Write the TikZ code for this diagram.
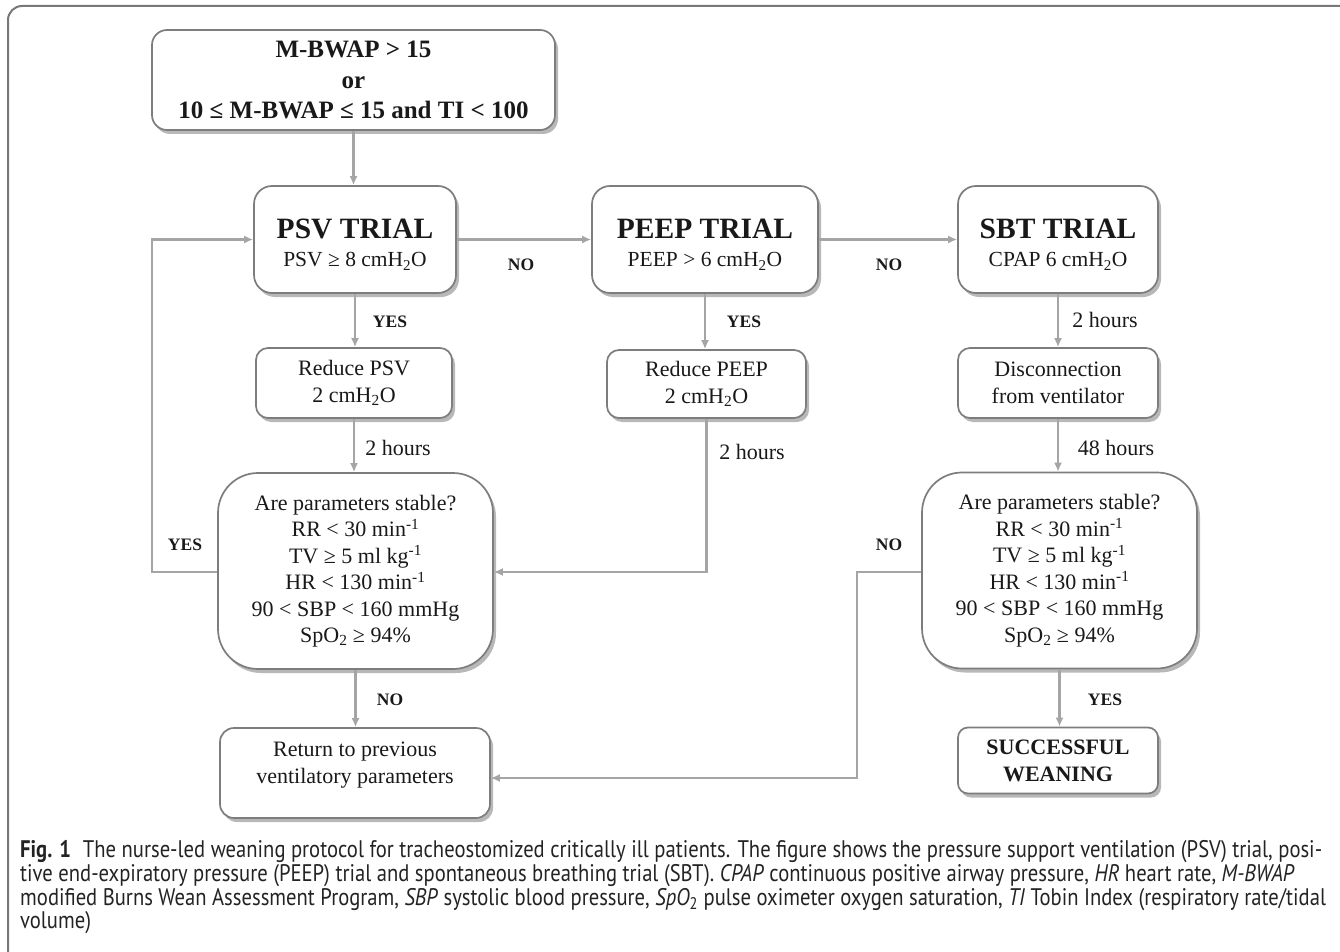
\documentclass[tikz,border=0pt]{standalone}
\usepackage{fontspec}
\setmainfont{Liberation Serif}
\newfontfamily\capfont[FakeStretch=0.86]{PT Sans}
\usetikzlibrary{arrows.meta,shadows}
\definecolor{boxgray}{RGB}{125,125,125}
\definecolor{linegray}{RGB}{165,165,165}
\definecolor{framegray}{RGB}{120,120,120}
\definecolor{txtcol}{RGB}{25,25,25}
\definecolor{capcol}{RGB}{35,35,35}
\newcommand{\cmho}{cmH\textsubscript{2}O}
\newcommand{\minv}{min\textsuperscript{-1}}
\newsavebox\capboxA
\newcommand{\capsize}{\capfont\fontsize{19}{22}\selectfont}
\newcommand{\capA}{\textbf{Fig. 1}\enspace The nurse-led weaning protocol for tracheostomized critically ill patients. The figure shows the pressure support ventilation (PSV) trial, posi-}
\begin{document}
\sbox\capboxA{\capsize\capA}
\pgfmathsetmacro\capscale{1302/\wd\capboxA}
\begin{tikzpicture}[x=1pt,y=-1pt,
  box/.style={draw=boxgray, line width=1.7pt, fill=white, rounded corners=#1,
    align=center, inner sep=0pt, text=txtcol,
    drop shadow={shadow xshift=3pt,shadow yshift=-4pt,fill=black,opacity=0.28}},
  box/.default=14pt,
  txt/.style={align=center, inner sep=0pt, text=txtcol},
  big/.style={font=\fontsize{25}{30.5}\selectfont\bfseries},
  body/.style={font=\fontsize{22}{26.5}\selectfont},
  trial/.style={font=\fontsize{21.5}{31}\selectfont},
  lab/.style={font=\fontsize{17.5}{20}\selectfont\bfseries, text=txtcol, inner sep=0pt},
  hrs/.style={font=\fontsize{22}{24}\selectfont, text=txtcol, inner sep=0pt},
  conn/.style={draw=linegray, line width=2.6pt, -{Latex[length=9pt,width=8pt]}},
  capline/.style={anchor=base west, inner sep=0pt, text=capcol, font=\capsize}
]
\useasboundingbox (0,0) rectangle (1340,952);
% outer frame
\draw[framegray, line width=2pt, rounded corners=14pt] (8,952) -- (8,6) -- (1340,6);

% boxes
\node[box=15pt, big, minimum width=403pt, minimum height=100pt] (top) at (353.5,80)
  {M-BWAP > 15\\or\\10 ≤ M-BWAP ≤ 15 and TI < 100};

\node[box=18pt, trial, minimum width=202pt, minimum height=107pt] (psv) at (355,239.5)
  {\rule{0pt}{27pt}\raisebox{-3pt}{\fontsize{29.5}{31}\selectfont\bfseries PSV TRIAL}\\PSV ≥ 8 \cmho};
\node[box=18pt, trial, minimum width=226pt, minimum height=107pt] (peep) at (705,239.5)
  {\rule{0pt}{27pt}\raisebox{-3pt}{\fontsize{29.5}{31}\selectfont\bfseries PEEP TRIAL}\\PEEP > 6 \cmho};
\node[box=18pt, trial, minimum width=200pt, minimum height=107pt] (sbt) at (1058,239.5)
  {\rule{0pt}{27pt}\raisebox{-3pt}{\fontsize{29.5}{31}\selectfont\bfseries SBT TRIAL}\\CPAP 6 \cmho};

\node[box=12pt, body, minimum width=196pt, minimum height=70pt] (rpsv) at (354,383)
  {Reduce PSV\\2 \cmho};
\node[box=12pt, body, minimum width=199pt, minimum height=68pt] (rpeep) at (706.5,384)
  {Reduce PEEP\\2 \cmho};
\node[box=12pt, body, minimum width=200pt, minimum height=70pt] (disc) at (1058,383)
  {Disconnection\\from ventilator};

\node[box=40pt, body, minimum width=275pt, minimum height=196pt] (st1) at (355.5,571)
  {Are parameters stable?\\RR < 30 \minv\\TV ≥ 5 ml kg\textsuperscript{-1}\\HR < 130 \minv\\90 < SBP < 160 mmHg\\SpO\textsubscript{2} ≥ 94\%};

\node[box=40pt, body, minimum width=275pt, minimum height=196pt] (st2) at (1059.5,570.5)
  {Are parameters stable?\\RR < 30 \minv\\TV ≥ 5 ml kg\textsuperscript{-1}\\HR < 130 \minv\\90 < SBP < 160 mmHg\\SpO\textsubscript{2} ≥ 94\%};

\node[box=10pt, font=\fontsize{22}{27}\selectfont\bfseries, minimum width=200pt, minimum height=66pt] (succ) at (1058,760.5)
  {SUCCESSFUL\\WEANING};

\node[box=14pt, minimum width=270pt, minimum height=90pt] (ret) at (355,773) {};
\node[txt, body] (rett) at (355,765) {Return to previous\\ventilatory parameters};

% helper coordinates
\coordinate (loopy) at (0,572);
\coordinate (lx) at (152,0);
\coordinate (nx) at (857,0);
\coordinate (rety) at (0,778);

% connectors
\draw[conn] (top.south) -- (top.south |- psv.north);
\draw[conn] (psv.east) -- (peep.west);
\draw[conn] (peep.east) -- (sbt.west);
\draw[conn] (psv.south) -- (psv.south |- rpsv.north);
\draw[conn] (rpsv.south) -- (rpsv.south |- st1.north);
\draw[conn] (peep.south) -- (peep.south |- rpeep.north);
\draw[conn] (rpeep.south) -- (rpeep.south |- loopy) -- (st1.east |- loopy);
\draw[conn] (st1.west |- loopy) -- (lx |- loopy) -- (lx |- psv.west) -- (psv.west);
\draw[conn] (st1.south) -- (st1.south |- ret.north);
\draw[conn] (sbt.south) -- (sbt.south |- disc.north);
\draw[conn] (disc.south) -- (disc.south |- st2.north);
\draw[conn] (st2.south) -- (st2.south |- succ.north);
\draw[conn] (st2.west |- loopy) -- (nx |- loopy) -- (nx |- rety) -- (ret.east |- rety);

% labels
\node[lab] (l1) at (521,265) {NO};
\node[lab] (l2) at (889,265) {NO};
\node[lab] (l3) at (390,322) {YES};
\node[lab] (l4) at (744,322) {YES};
\node[hrs] (l5) at (1105,320) {2 hours};
\node[hrs] (l6) at (398,448) {2 hours};
\node[hrs] (l7) at (752,452) {2 hours};
\node[hrs] (l8) at (1116,448) {48 hours};
\node[lab] (l9) at (185,545) {YES};
\node[lab] (l10) at (889,545) {NO};
\node[lab] (l11) at (390,700) {NO};
\node[lab] (l12) at (1105,700) {YES};

% caption
\node[capline] (c1) at (20,857) {\scalebox{\capscale}{\capA}};
\node[capline] (c2) at (20,881) {\scalebox{\capscale}{tive end-expiratory pressure (PEEP) trial and spontaneous breathing trial (SBT). \textit{CPAP} continuous positive airway pressure, \textit{HR} heart rate, \textit{M-BWAP}}};
\node[capline] (c3) at (20,905) {\scalebox{\capscale}{modified Burns Wean Assessment Program, \textit{SBP} systolic blood pressure, \textit{SpO}\textsubscript{2} pulse oximeter oxygen saturation, \textit{TI} Tobin Index (respiratory rate/tidal}};
\node[capline] (c4) at (20,928) {\scalebox{\capscale}{volume)}};
\end{tikzpicture}
\end{document}
